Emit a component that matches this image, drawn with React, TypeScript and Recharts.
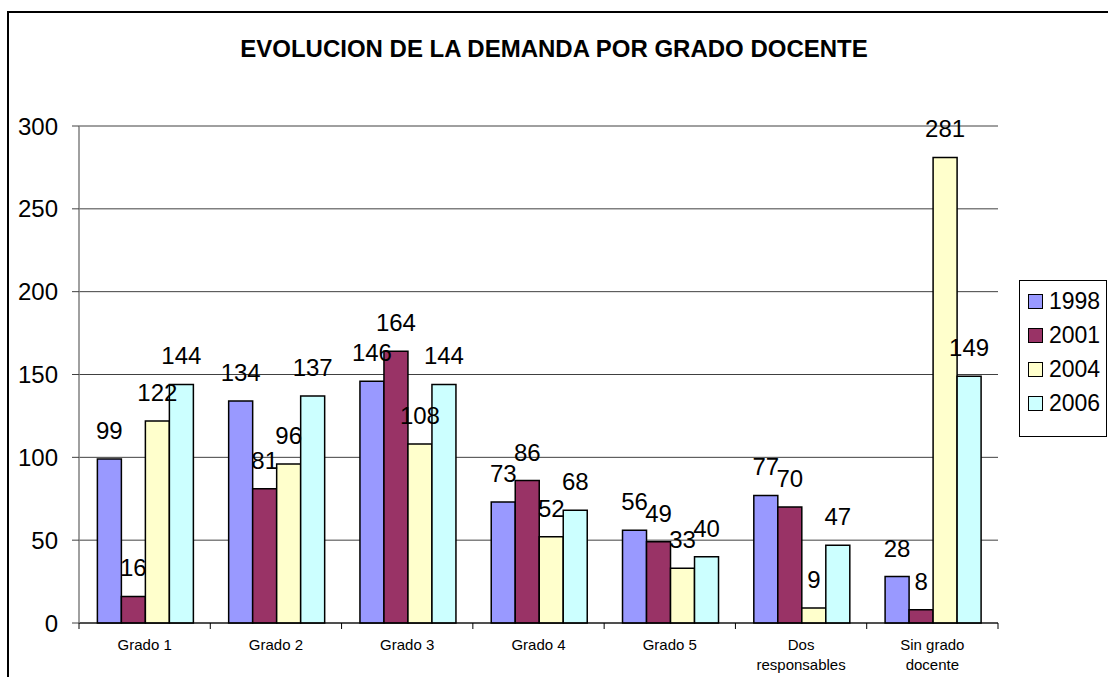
import React from 'react';
import { BarChart, Bar, XAxis, YAxis, CartesianGrid, Legend, LabelList } from 'recharts';

const categories = ['Grado 1', 'Grado 2', 'Grado 3', 'Grado 4', 'Grado 5', 'Dos responsables', 'Sin grado docente'];
const seriesNames = ['1998', '2001', '2004', '2006'];
const v1998 = [99, 134, 146, 73, 56, 77, 28];
const v2001 = [16, 81, 164, 86, 49, 70, 8];
const v2004 = [122, 96, 108, 52, 33, 9, 281];
const v2006 = [144, 137, 144, 68, 40, 47, 149];
const yTicks = [0, 50, 100, 150, 200, 250, 300];
const title = 'EVOLUCION DE LA DEMANDA POR GRADO DOCENTE';

const colors = ['#9999FF', '#993366', '#FFFFCC', '#CCFFFF'];
const FONT = '"Liberation Sans", Arial, sans-serif';

const data = categories.map((c, i) => ({
  name: c,
  s1998: v1998[i],
  s2001: v2001[i],
  s2004: v2004[i],
  s2006: v2006[i],
}));
const keys = ['s1998', 's2001', 's2004', 's2006'];

const W = 1108;
const H = 677;
const M = { top: 126, right: 110, left: 0, bottom: 0 };
const Y_W = 79;
const X_H = 54;
const BAND = (W - M.left - M.right - Y_W) / categories.length;

function wrap(text: string, max: number): string[] {
  const words = text.split(' ');
  const lines: string[] = [];
  let cur = '';
  for (const w of words) {
    if (!cur) cur = w;
    else if ((cur + ' ' + w).length > max) {
      lines.push(cur);
      cur = w;
    } else cur = cur + ' ' + w;
  }
  if (cur) lines.push(cur);
  return lines;
}

const XTick = (props: any) => {
  const { x, y, payload, index } = props;
  const half = payload && payload.offset ? payload.offset : BAND / 2;
  const lines = wrap(String(payload.value), 12);
  const isLast = index === categories.length - 1;
  return (
    <g>
      <line x1={x - half} x2={x - half} y1={y} y2={y + 6} stroke="#000" strokeWidth={1} />
      {isLast && <line x1={x + half} x2={x + half} y1={y} y2={y + 6} stroke="#000" strokeWidth={1} />}
      {lines.map((l, i) => (
        <text key={i} x={x} y={y + 27 + i * 20} textAnchor="middle" fontSize={15} fontFamily={FONT} fill="#000">
          {l}
        </text>
      ))}
    </g>
  );
};

const renderLabel = (props: any) => {
  const { x, y, width, value } = props;
  return (
    <text x={x + width / 2} y={y - 20} textAnchor="middle" fontSize={24} fontFamily={FONT} fill="#000">
      {value}
    </text>
  );
};

const LegendContent = () => (
  <div
    style={{
      position: 'absolute',
      left: 0,
      top: 0,
      border: '1px solid #000',
      width: 88,
      height: 157,
      boxSizing: 'border-box',
      paddingTop: 3,
      fontFamily: FONT,
      background: '#fff',
    }}
  >
    {seriesNames.map((s, i) => (
      <div key={s} style={{ display: 'flex', alignItems: 'center', height: 34, paddingLeft: 8 }}>
        <div style={{ width: 13, height: 13, background: colors[i], border: '1.5px solid #000', marginRight: 6 }} />
        <span style={{ fontSize: 23, lineHeight: '24px' }}>{s}</span>
      </div>
    ))}
  </div>
);

export default function App() {
  return (
    <div style={{ position: 'fixed', left: 0, top: 0, width: W, height: H, overflow: 'hidden', background: '#fff' }}>
      <div
        style={{
          position: 'absolute',
          left: 7,
          top: 11,
          width: 1300,
          height: 900,
          border: '2px solid #000',
          boxSizing: 'border-box',
        }}
      />
      <div
        style={{
          position: 'absolute',
          left: 0,
          top: 37,
          width: W,
          textAlign: 'center',
          fontFamily: FONT,
          fontWeight: 'bold',
          fontSize: 24,
          lineHeight: '24px',
          color: '#000',
        }}
      >
        {title}
      </div>
      <div style={{ position: 'absolute', left: 0, top: 0 }}>
        <BarChart width={W} height={H} data={data} margin={M} barCategoryGap="14%" barGap={0}>
          <CartesianGrid horizontal vertical={false} stroke="#404040" strokeWidth={1} />
          <XAxis
            dataKey="name"
            height={X_H}
            interval={0}
            tick={<XTick />}
            tickLine={false}
            tickSize={0}
            tickMargin={0}
            axisLine={{ stroke: '#000', strokeWidth: 1 }}
          />
          <YAxis
            width={Y_W}
            domain={[0, 300]}
            ticks={yTicks}
            interval={0}
            tickSize={7}
            tickMargin={14}
            tick={{ fontSize: 24, fontFamily: FONT, fill: '#000' }}
            axisLine={{ stroke: '#808080', strokeWidth: 1.5 }}
            tickLine={{ stroke: '#404040' }}
          />
          <Legend
            content={<LegendContent />}
            wrapperStyle={{ position: 'absolute', left: 1019, top: 280, width: 0, height: 0, overflow: 'visible' }}
          />
          {keys.map((k, i) => (
            <Bar key={k} dataKey={k} name={seriesNames[i]} fill={colors[i]} stroke="#000" strokeWidth={1.5} isAnimationActive={false}>
              <LabelList dataKey={k} content={renderLabel} />
            </Bar>
          ))}
        </BarChart>
      </div>
    </div>
  );
}
